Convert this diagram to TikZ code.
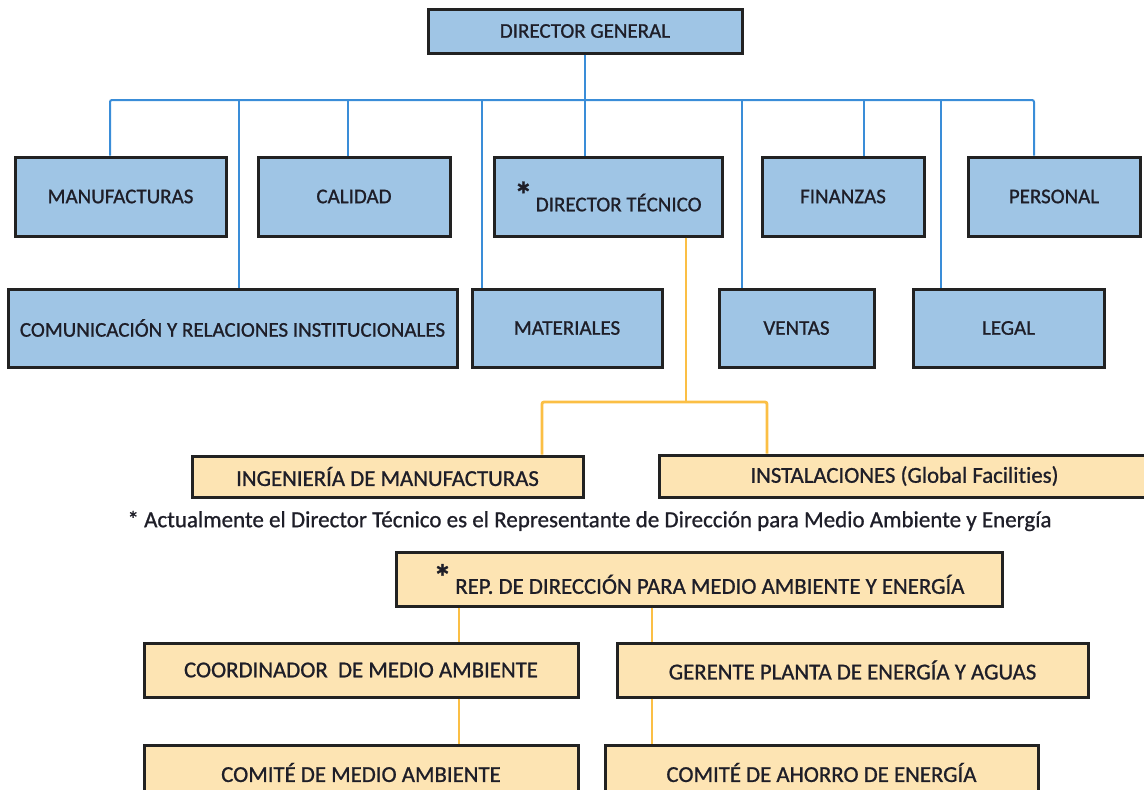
\documentclass[tikz,border=0pt]{standalone}
\usepackage{fontspec}
\setmainfont{Carlito}
\newfontfamily\medfont{Carlito}[RawFeature={embolden=0.9}, Ligatures=NoCommon]
\definecolor{bfill}{HTML}{9FC5E5}
\definecolor{ofill}{HTML}{FDE4B3}
\definecolor{bline}{HTML}{3A8DD8}
\definecolor{oline}{HTML}{FBBF45}
\definecolor{bord}{HTML}{222222}
\definecolor{txt}{HTML}{1E1E28}
\tikzset{
  box/.style={draw=bord, line width=3pt, inner sep=0pt, text=txt},
  bbox/.style={box, fill=bfill, font=\medfont\fontsize{21}{23}\selectfont},
  obox/.style={box, fill=ofill, font=\medfont\fontsize{22.8}{24}\selectfont},
  bl/.style={draw=bline, line width=2pt, rounded corners=2pt},
  ol/.style={draw=oline, line width=2.8pt, rounded corners=2pt},
}
\newcommand{\bigstar}{\raisebox{4pt}{\fontsize{36}{36}\selectfont\bfseries *}\,}
\begin{document}
\begin{tikzpicture}[x=1pt,y=-1pt]
\useasboundingbox (0,0) rectangle (1144,790);
% blue boxes
\node[bbox, minimum width=314, minimum height=44] (dg) at (585,31) {DIRECTOR GENERAL};
\node[bbox, minimum width=211, minimum height=79] (manuf) at (120.5,196.5) {MANUFACTURAS};
\node[bbox, minimum width=192, minimum height=79] (calidad) at (354,196.5) {CALIDAD};
\node[bbox, minimum width=228, minimum height=79] (dtec) at (608,196.5) {\bigstar DIRECTOR TÉCNICO};
\node[bbox, minimum width=162, minimum height=79] (finanzas) at (843,196.5) {FINANZAS};
\node[bbox, minimum width=172, minimum height=79] (personal) at (1054,196.5) {PERSONAL};
\node[bbox, minimum width=449, minimum height=78] (comun) at (232.5,328) {COMUNICACIÓN Y RELACIONES INSTITUCIONALES};
\node[bbox, minimum width=190, minimum height=78] (materiales) at (567,328) {MATERIALES};
\node[bbox, minimum width=155, minimum height=78] (ventas) at (796.5,328) {VENTAS};
\node[bbox, minimum width=191, minimum height=78] (legal) at (1008.5,328) {LEGAL};
% orange boxes
\node[obox, minimum width=391, minimum height=41] (ingen) at (387.5,476.5) {INGENIERÍA DE MANUFACTURAS};
\node[obox, minimum width=491, minimum height=42] (instal) at (904.5,476) {INSTALACIONES (Global Facilities)};
\node[text=txt, font=\medfont\fontsize{23}{25}\selectfont, inner sep=0pt] (nota) at (589.5,521) {* Actualmente el Director Técnico es el Representante de Dirección para Medio Ambiente y Energía};
\node[obox, minimum width=606, minimum height=54] (rep) at (699,579) {\bigstar REP. DE DIRECCIÓN PARA MEDIO AMBIENTE Y ENERGÍA};
\node[obox, minimum width=434, minimum height=54] (coord) at (361,670) {COORDINADOR\ \ DE MEDIO AMBIENTE};
\node[obox, minimum width=471, minimum height=54] (gerente) at (852.5,670) {GERENTE PLANTA DE ENERGÍA Y AGUAS};
\node[obox, minimum width=434, minimum height=55] (comma) at (361,772.5) {COMITÉ DE MEDIO AMBIENTE};
\node[obox, minimum width=433, minimum height=55] (comah) at (821.5,772.5) {COMITÉ DE AHORRO DE ENERGÍA};
% blue connectors
\coordinate (jm) at (110,100);
\coordinate (jco) at (239,100);
\coordinate (jc) at (348,100);
\coordinate (jma) at (482,100);
\coordinate (jv) at (742,100);
\coordinate (jf) at (864,100);
\coordinate (jl) at (941,100);
\coordinate (jp) at (1034,100);
\draw[bl] (jm |- manuf.north) -- (jm) -- (jp) -- (jp |- personal.north);
\draw[bl] (dg.south) -- (dg.south |- dtec.north);
\draw[bl] (jco) -- (jco |- comun.north);
\draw[bl] (jc) -- (jc |- calidad.north);
\draw[bl] (jma) -- (jma |- materiales.north);
\draw[bl] (jv) -- (jv |- ventas.north);
\draw[bl] (jf) -- (jf |- finanzas.north);
\draw[bl] (jl) -- (jl |- legal.north);
% orange connectors
\coordinate (t1) at (686,402);
\coordinate (o1) at (542,402);
\coordinate (o2) at (767,402);
\draw[ol] (t1 |- dtec.south) -- (t1);
\draw[ol] (o1 |- ingen.north) -- (o1) -- (o2) -- (o2 |- instal.north);
\coordinate (c1) at (459,0);
\coordinate (c2) at (652,0);
\draw[ol] (c1 |- rep.south) -- (c1 |- coord.north);
\draw[ol] (c1 |- coord.south) -- (c1 |- comma.north);
\draw[ol] (c2 |- rep.south) -- (c2 |- gerente.north);
\draw[ol] (c2 |- gerente.south) -- (c2 |- comah.north);
\end{tikzpicture}
\end{document}
